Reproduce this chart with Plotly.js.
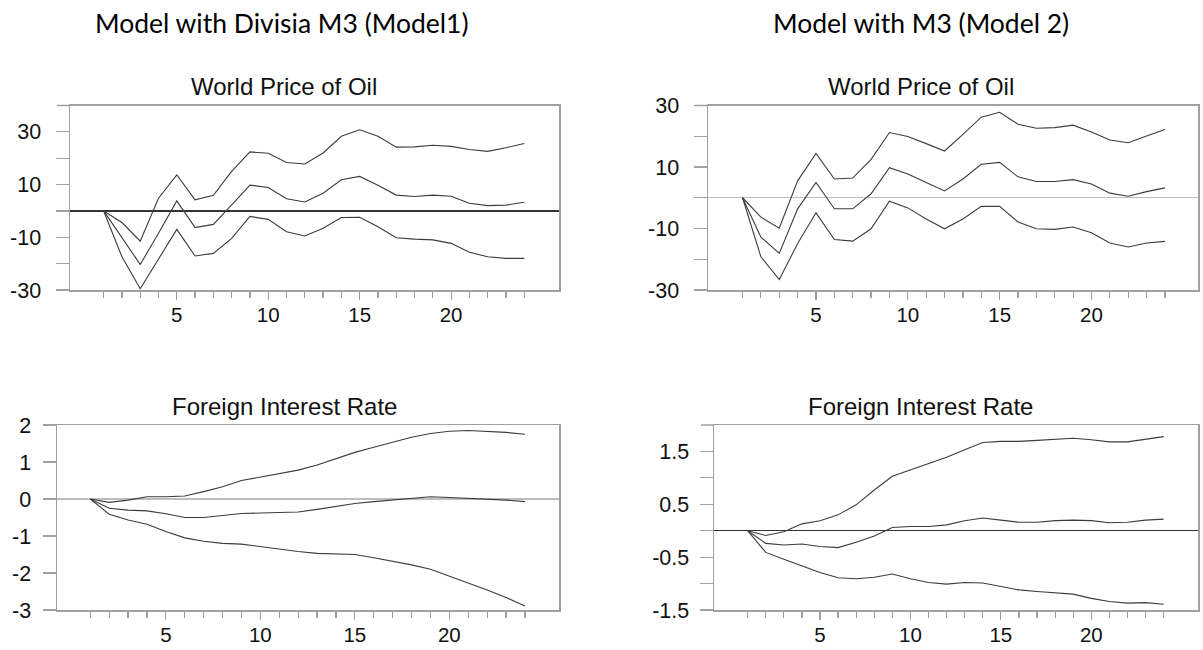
<!DOCTYPE html>
<html>
<head>
<meta charset="utf-8">
<script src="https://cdn.plot.ly/plotly-3.0.1.min.js"></script>
<style>
  html, body { margin: 0; padding: 0; background: #fff; }
  #chart { width: 1203px; height: 650px; }
</style>
</head>
<body>
<div id="chart"></div>
<script>
// ---- Data ----
const horizon = [1,2,3,4,5,6,7,8,9,10,11,12,13,14,15,16,17,18,19,20,21,22,23,24];

const headerLeft = "Model with Divisia M3 (Model1)";
const headerRight = "Model with M3 (Model 2)";
const titleOil = "World Price of Oil";
const titleRate = "Foreign Interest Rate";

// Model 1 (Divisia M3): World Price of Oil
const m1OilUpper = [0,-4.4,-11.5,4.8,13.7,4.2,5.9,15,22.4,21.9,18.4,17.8,22,28.3,30.8,28.3,24.2,24.3,24.9,24.5,23.3,22.6,24,25.6];
const m1OilMid   = [0,-10.2,-20.3,-8.5,3.8,-6.3,-5.1,2.3,9.8,8.9,4.6,3.4,6.7,11.8,13.1,9.7,6.0,5.5,6.0,5.6,2.9,2.0,2.2,3.3];
const m1OilLower = [0,-17.4,-29.5,-18.4,-7,-17.1,-16.1,-10.4,-2.1,-3.2,-7.9,-9.5,-6.6,-2.5,-2.4,-6.0,-10.2,-10.7,-11.0,-12.3,-15.7,-17.4,-18.0,-18.0];

// Model 2 (M3): World Price of Oil
const m2OilUpper = [0,-6.3,-9.9,5.5,14.4,6.1,6.4,12.5,21.2,19.9,17.6,15.2,20.6,26.2,27.8,23.9,22.6,22.8,23.6,21.4,18.8,17.9,20.1,22.2];
const m2OilMid   = [0,-12.8,-18.1,-3.6,5.0,-3.6,-3.6,1.3,9.8,7.7,5.0,2.2,6.1,10.9,11.5,6.8,5.3,5.3,5.9,4.5,1.5,0.5,2.0,3.2];
const m2OilLower = [0,-19.2,-26.6,-14.9,-4.9,-13.6,-14.1,-10.1,-1.1,-3.3,-6.9,-10.1,-6.9,-2.8,-2.8,-7.9,-10.1,-10.3,-9.5,-11.4,-14.7,-16.0,-14.7,-14.2];

// Model 1: Foreign Interest Rate
const m1RateUpper = [0,-0.09,-0.03,0.06,0.06,0.08,0.2,0.33,0.5,0.59,0.68,0.78,0.92,1.1,1.26,1.4,1.53,1.67,1.77,1.83,1.85,1.83,1.8,1.75];
const m1RateMid   = [0,-0.25,-0.3,-0.32,-0.4,-0.5,-0.5,-0.45,-0.39,-0.38,-0.36,-0.35,-0.28,-0.19,-0.12,-0.07,-0.03,0.02,0.06,0.04,0.02,-0.01,-0.03,-0.07];
const m1RateLower = [0,-0.41,-0.57,-0.68,-0.88,-1.05,-1.14,-1.2,-1.22,-1.29,-1.36,-1.42,-1.47,-1.48,-1.5,-1.59,-1.68,-1.78,-1.9,-2.08,-2.26,-2.46,-2.66,-2.89];

// Model 2: Foreign Interest Rate
const m2RateUpper = [0,-0.09,-0.02,0.13,0.19,0.3,0.49,0.77,1.03,1.15,1.28,1.39,1.53,1.67,1.69,1.69,1.71,1.73,1.75,1.72,1.68,1.68,1.73,1.78];
const m2RateMid   = [0,-0.24,-0.27,-0.25,-0.3,-0.32,-0.22,-0.1,0.06,0.08,0.08,0.11,0.19,0.24,0.2,0.16,0.16,0.19,0.2,0.19,0.15,0.16,0.2,0.22];
const m2RateLower = [0,-0.41,-0.54,-0.67,-0.79,-0.89,-0.91,-0.88,-0.82,-0.91,-0.98,-1.01,-0.98,-0.99,-1.06,-1.12,-1.15,-1.18,-1.2,-1.28,-1.34,-1.37,-1.36,-1.39];

// Tick labels
const xMajorTicks = [5,10,15,20];
const oilTicksM1 = [-30,-20,-10,0,10,20,30];
const oilLabelsM1 = ["-30","","-10","","10","","30"];
const oilTicksM2 = [-30,-20,-10,0,10,20,30];
const oilLabelsM2 = ["-30","","-10","","10","","30"];
const rateTicksM1 = [-3,-2,-1,0,1,2];
const rateLabelsM1 = ["-3","-2","-1","0","1","2"];
const rateTicksM2 = [-1.5,-1,-0.5,0,0.5,1,1.5];
const rateLabelsM2 = ["-1.5","","-0.5","","0.5","","1.5"];

// ---- Styling ----
const lineColor = "#3c3c3c";
const frameColor = "#a0a0a0";
const yTickFont = { family: "Liberation Sans, Arial, sans-serif", size: 21.5, color: "#111" };
const xTickFont = { family: "Liberation Sans, Arial, sans-serif", size: 20.5, color: "#111" };
const titleFont = { family: "Liberation Sans, Arial, sans-serif", size: 24, color: "#111" };
const headerFont = { family: "Lato, Open Sans, sans-serif", size: 26.5, color: "#000" };

function traces(xa, ya, series) {
  return series.map(s => ({
    type: "scatter", mode: "lines", x: horizon, y: s,
    xaxis: xa, yaxis: ya, showlegend: false, hoverinfo: "skip",
    line: { color: lineColor, width: 1.1 }
  }));
}

const data = [].concat(
  traces("x", "y", [m1OilUpper, m1OilMid, m1OilLower]),
  traces("x2", "y2", [m2OilUpper, m2OilMid, m2OilLower]),
  traces("x3", "y3", [m1RateUpper, m1RateMid, m1RateLower]),
  traces("x4", "y4", [m2RateUpper, m2RateMid, m2RateLower])
);

function xAxis(domain, range, anchor) {
  return {
    domain: domain, range: range, anchor: anchor,
    showgrid: false, zeroline: false,
    showline: true, mirror: true, linecolor: frameColor, linewidth: 1.5,
    ticks: "outside", ticklen: 8, tickwidth: 1.2, tickcolor: frameColor,
    tickmode: "array", tickvals: xMajorTicks,
    minor: { tickmode: "array", tickvals: horizon, ticks: "outside", ticklen: 6, tickcolor: frameColor, tickwidth: 1.2 },
    tickfont: xTickFont, ticklabelstandoff: -2, fixedrange: true
  };
}
function yAxis(domain, range, anchor, vals, text, zcolor, standoff) {
  return {
    domain: domain, range: range, anchor: anchor,
    showgrid: false, zeroline: true, zerolinecolor: zcolor, zerolinewidth: 1.2,
    showline: true, mirror: true, linecolor: frameColor, linewidth: 1.5,
    ticks: "outside", ticklen: 13, tickwidth: 1.2, tickcolor: frameColor,
    tickmode: "array", tickvals: vals, ticktext: text,
    tickfont: yTickFont, ticklabelstandoff: standoff, fixedrange: true
  };
}

const W = 1203, H = 650;
const topY = [1 - 290 / H, 1 - 105.5 / H];
const botY = [1 - 610 / H, 1 - 425 / H];

// small extensions of top/bottom frame lines to the left (as in the source graphs)
function frameExt(xref, yref, frac) {
  return [0, 1].map(v => ({
    type: "line", xref: xref, yref: yref, x0: -frac, x1: 0, y0: v, y1: v,
    line: { color: frameColor, width: 1.5 }
  }));
}

function ann(text, px, py, font) {
  return { text: text, xref: "paper", yref: "paper", x: px / W, y: 1 - py / H,
           xanchor: "center", yanchor: "middle", showarrow: false, font: font };
}

const layout = {
  width: W, height: H,
  margin: { l: 0, r: 0, t: 0, b: 0 },
  paper_bgcolor: "#fff", plot_bgcolor: "#fff",
  showlegend: false,
  xaxis:  xAxis([70 / W, 559 / W], [-0.84, 25.9], "y"),
  yaxis:  yAxis(topY, [-30, 40], "x", oilTicksM1, oilLabelsM1, "#333", 10),
  xaxis2: xAxis([708 / W, 1198 / W], [-0.88, 25.8], "y2"),
  yaxis2: yAxis(topY, [-30, 30], "x2", oilTicksM2, oilLabelsM2, "#bdbdbd", 10),
  xaxis3: xAxis([57 / W, 559 / W], [-0.76, 25.8], "y3"),
  yaxis3: yAxis(botY, [-3, 2], "x3", rateTicksM1, rateLabelsM1, "#bdbdbd", 7),
  xaxis4: xAxis([714 / W, 1198 / W], [-0.86, 25.9], "y4"),
  yaxis4: yAxis(botY, [-1.5, 2], "x4", rateTicksM2, rateLabelsM2, "#333", 6),
  shapes: [].concat(
    frameExt("x domain", "y domain", 13 / 489),
    frameExt("x2 domain", "y2 domain", 13 / 490),
    frameExt("x3 domain", "y3 domain", 12 / 502),
    frameExt("x4 domain", "y4 domain", 13 / 484)
  ),
  annotations: [
    ann(headerLeft, 281, 23, headerFont),
    ann(headerRight, 921, 23, headerFont),
    ann(titleOil, 284, 86, titleFont),
    ann(titleOil, 921, 86, titleFont),
    ann(titleRate, 284, 406, titleFont),
    ann(titleRate, 921, 406, titleFont)
  ]
};

Plotly.newPlot("chart", data, layout, { staticPlot: true, displayModeBar: false });
</script>
</body>
</html>
